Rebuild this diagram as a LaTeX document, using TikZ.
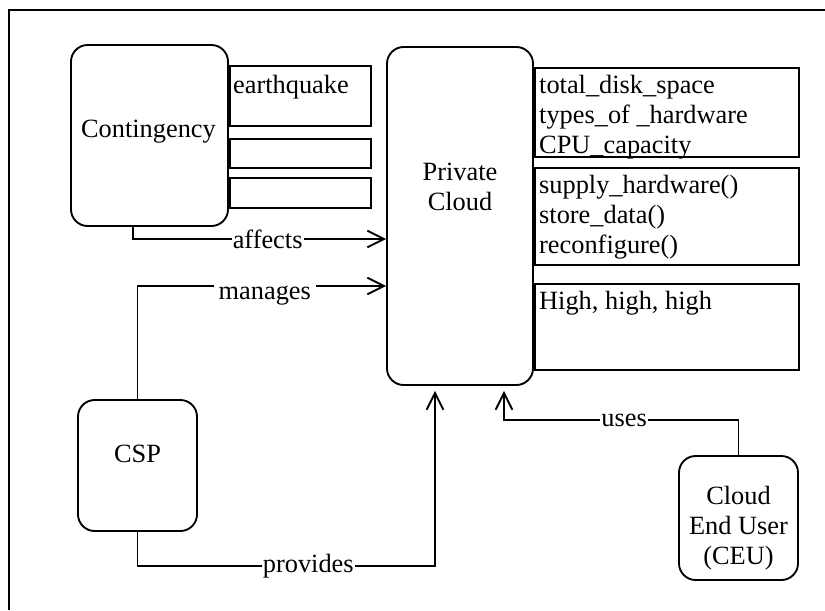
\documentclass[tikz,border=0pt]{standalone}
\usepackage{fontspec}
\setmainfont{Liberation Serif}
\usetikzlibrary{arrows.meta,positioning}

\tikzset{
  entity/.style={draw, line width=1.6pt, rounded corners=0.5cm, inner sep=0pt},
  slot/.style={draw, line width=1.6pt, minimum width=4.23cm, inner sep=0pt, anchor=north west},
  attr/.style={draw, line width=1.6pt, minimum width=7.92cm, inner sep=0pt, anchor=north west},
  memb/.style={anchor=north west, inner sep=0pt, align=left},
  title/.style={align=center, inner sep=0pt},
  flow/.style={line width=1.6pt, -{Straight Barb[length=0.5cm, width=0.5cm]}},
  lbl/.style={fill=white, inner sep=1pt}
}

\begin{document}
\begin{tikzpicture}[x=0.03cm, y=-0.03cm, font=\fontsize{22.5}{25.5}\selectfont]

  \useasboundingbox (0,0) rectangle (825,610);
  \draw[line width=1.6pt] (825,10) -| (9,610);

  % Define nodes
  \node[entity, minimum width=4.71cm, minimum height=5.43cm] (cont) at (149.5,135.5) {};
  \node[title] (contname) at (148.5,132) {Contingency};
  \node[slot, minimum height=1.8cm, below right=0.63cm and 0pt of cont.north east] (quake) {};
  \node[slot, minimum height=0.87cm, below right=0.33cm and 0pt of quake.south west] (slotb) {};
  \node[slot, minimum height=0.9cm, below right=0.24cm and 0pt of slotb.south west] (slotc) {};
  \node[memb, below right=0.3cm and 0.12cm of quake.north west] (quaketxt) {earthquake};

  \node[entity, minimum width=4.38cm, minimum height=10.14cm] (pc) at (460,216) {};
  \node[title] (pcname) at (460,187) {Private\\Cloud};
  \node[attr, minimum height=2.67cm, below right=0.63cm and 0pt of pc.north east] (pcattr) {};
  \node[attr, minimum height=2.91cm, below right=0.27cm and 0pt of pcattr.south west] (pcmeth) {};
  \node[attr, minimum height=2.58cm, below right=0.51cm and 0pt of pcmeth.south west] (pcqual) {};
  \node[memb, below right=0.24cm and 0.15cm of pcattr.north west] (attrtxt)
    {total\_disk\_space\\types\_of \_hardware\\CPU\_capacity};
  \node[memb, below right=0.24cm and 0.15cm of pcmeth.north west] (methtxt)
    {supply\_hardware()\\store\_data()\\reconfigure()};
  \node[memb, below right=0.24cm and 0.15cm of pcqual.north west] (qualtxt)
    {High, high, high};

  \node[entity, minimum width=3.57cm, minimum height=3.93cm] (csp) at (137.5,465.5) {};
  \node[title] (cspname) at (137.5,454) {CSP};

  \node[entity, minimum width=3.57cm, minimum height=3.72cm] (ceu) at (738.5,518) {};
  \node[title] (ceuname) at (738.5,528) {Cloud\\End User\\(CEU)};

  % Connect the nodes
  \draw[flow] (cont.south -| 133,0) |- (pc.west |- 0,239) node[lbl, pos=0.766] {affects};
  \draw[flow] (csp.north) |- (pc.west |- 0,286) node[lbl, pos=0.756, yshift=-0.3cm, inner xsep=4pt] {manages};
  \draw[flow, shorten >=0.15cm] (csp.south) -- (csp.south |- 0,566) -| (pc.south -| 435,0)
    node[lbl, pos=0.287] {provides};
  \draw[flow, shorten >=0.15cm] (ceu.north) -- (ceu.north |- 0,420) -| (pc.south -| 504,0)
    node[lbl, pos=0.244] {uses};

\end{tikzpicture}
\end{document}
